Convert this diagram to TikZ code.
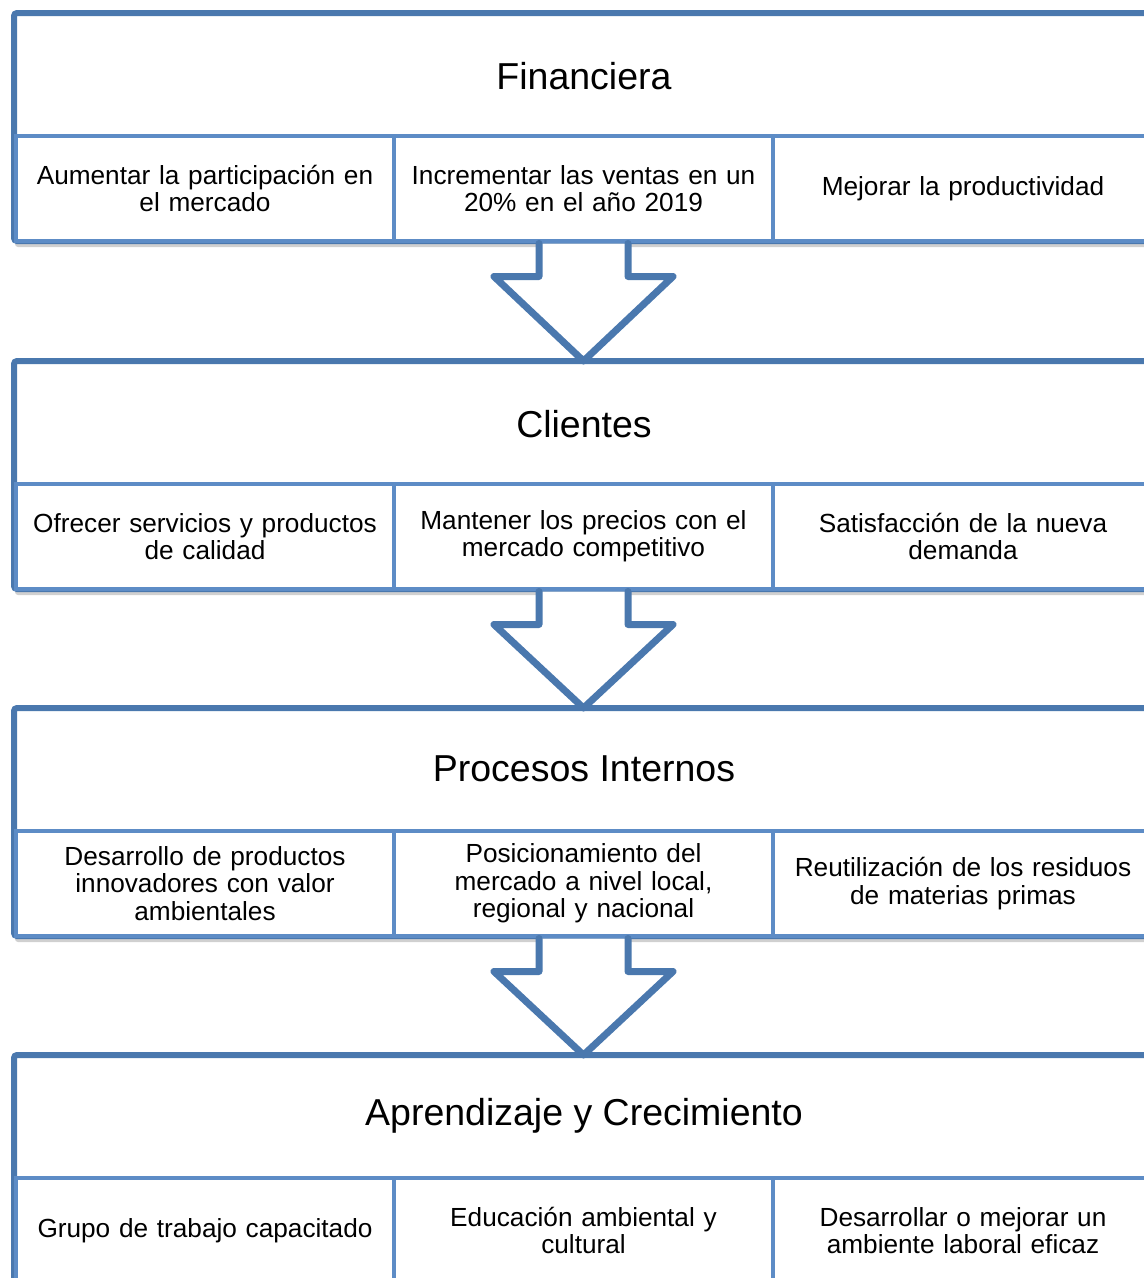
\documentclass[tikz,border=0pt]{standalone}
\usepackage{fontspec}
\setmainfont{Liberation Sans}
\usetikzlibrary{calc}
\definecolor{outerblue}{HTML}{4A78AE}
\definecolor{innerblue}{HTML}{5D8CC6}
\definecolor{shadowgray}{HTML}{D0D0D0}
\tikzset{
  framebox/.style={draw=outerblue, line width=6pt, fill=white, rounded corners=3pt,
    minimum width=1146pt, minimum height=228pt, inner sep=0pt, outer sep=0pt, anchor=north west},
  shadowbox/.style={fill=shadowgray, rounded corners=3pt, draw=none,
    minimum width=1146pt, minimum height=228pt, inner sep=0pt, outer sep=0pt, anchor=north west},
  titletext/.style={font=\fontsize{37.5}{40}\selectfont, inner sep=0pt},
  cell/.style={draw=innerblue, line width=4.5pt, fill=white, minimum width=#1,
    minimum height=105pt, inner sep=0pt, outer sep=0pt, align=center, text width=350pt,
    font=\fontsize{26.2}{27.3}\selectfont, anchor=north west},
  cell/.default=379pt,
  bigarrow/.style={draw=outerblue, fill=white, line width=7pt, line join=round, line cap=round}
}
\begin{document}
\begin{tikzpicture}[x=1pt,y=-1pt]
\useasboundingbox (0,0) rectangle (1144,1278);
\clip (0,0) rectangle (1144,1278);
% ---------- Layer 1 ----------
\node[shadowbox] (s1) at (15,19) {};
\node[framebox] (f1) at (14,13) {};
\node[titletext] (t1) at (584,76) {Financiera};
\node[cell=378pt] (a1) at (16,136) {Aumentar la participación en\\el mercado};
\node[cell] (a2) at (394,136) {Incrementar las ventas en un\\20\% en el año 2019};
\node[cell=380pt] (a3) at (773,136) {Mejorar la productividad};
% ---------- Layer 2 ----------
\node[shadowbox] (s2) at (15,367) {};
\node[framebox] (f2) at (14,361) {};
\node[titletext] (t2) at (584,424) {Clientes};
\node[cell=378pt] (b1) at (16,484) {Ofrecer servicios y productos\\de calidad};
\node[cell] (b2) at (394,484) {Mantener los precios con el\\mercado competitivo};
\node[cell=380pt] (b3) at (773,484) {Satisfacción de la nueva\\demanda};
% ---------- Layer 3 ----------
\node[shadowbox] (s3) at (15,714) {};
\node[framebox] (f3) at (14,708) {};
\node[titletext] (t3) at (584,769) {Procesos Internos};
\node[cell=378pt] (c1) at (16,831) {Desarrollo de productos\\innovadores con valor\\ambientales};
\node[cell] (c2) at (394,831) {Posicionamiento del\\mercado a nivel local,\\regional y nacional};
\node[cell=380pt] (c3) at (773,831) {Reutilización de los residuos\\de materias primas};
% ---------- Layer 4 ----------
\node[shadowbox] (s4) at (15,1061) {};
\node[framebox] (f4) at (14,1055) {};
\node[titletext] (t4) at (584,1116) {Aprendizaje y Crecimiento};
\node[cell=378pt] (d1) at (16,1178) {Grupo de trabajo capacitado};
\node[cell] (d2) at (394,1178) {Educación ambiental y\\cultural};
\node[cell=380pt] (d3) at (773,1178) {Desarrollar o mejorar un\\ambiente laboral eficaz};
% ---------- Arrows ----------
\foreach \src/\dst in {a2/f2, b2/f3, c2/f4}{
  \coordinate (top) at ($(\src.south)+(0,2.5)$);
  \coordinate (tip) at (\src.south |- \dst.north);
  \filldraw[bigarrow] ($(top)+(-44.5,0)$) -- ($(top)+(-44.5,33)$) -- ($(top)+(-89.5,33)$)
     -- (tip) -- ($(top)+(89.5,33)$) -- ($(top)+(44.5,33)$) -- ($(top)+(44.5,0)$);
}
\end{tikzpicture}
\end{document}
